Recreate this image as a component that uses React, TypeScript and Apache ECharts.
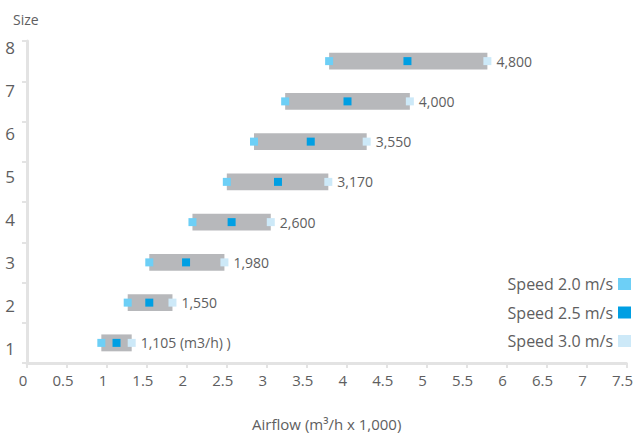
import React, { useEffect, useRef } from "react";
import * as echarts from "echarts";

const sizes = ["1", "2", "3", "4", "5", "6", "7", "8"];
const speed20 = [0.93, 1.26, 1.53, 2.07, 2.5, 2.84, 3.23, 3.78];
const speed25 = [1.12, 1.53, 1.99, 2.56, 3.14, 3.55, 4.01, 4.76];
const speed30 = [1.31, 1.82, 2.47, 3.05, 3.77, 4.25, 4.79, 5.76];
const airflowLabels = ["1,105 (m3/h) )", "1,550", "1,980", "2,600", "3,170", "3,550", "4,000", "4,800"];
const seriesNames = ["Speed 2.0 m/s", "Speed 2.5 m/s", "Speed 3.0 m/s"];

const FONT = "'Open Sans', 'Noto Sans', sans-serif";
const TEXT = "#5e5e60";
const AXIS = "#e3e3e3";
const C20 = "#6dcff6";
const C25 = "#009fe3";
const C30 = "#cde9f8";
const BAR = "#b7b8bb";

export default function App() {
  const ref = useRef<HTMLDivElement>(null);
  useEffect(() => {
    document.body.style.margin = "0";
    const chart = echarts.init(ref.current!, null, { renderer: "svg" });
    const spanData = sizes.map((_, i) => [speed20[i], speed30[i], i]);
    const scatter = (idx: number, vals: number[], color: string, extra: any = {}) => ({
      type: "scatter",
      name: seriesNames[idx],
      symbol: "rect",
      symbolSize: 8,
      itemStyle: { color, opacity: 1 },
      z: 3,
      data: sizes.map((s, i) => [vals[i], s]),
      ...extra,
    });
    chart.setOption({
      animation: false,
      textStyle: { fontFamily: FONT },
      title: {
        text: "Size",
        left: 8,
        top: 7,
        textStyle: { fontSize: 14, fontWeight: "normal", color: TEXT, fontFamily: FONT },
      },
      legend: {
        data: seriesNames,
        orient: "vertical",
        align: "right",
        right: 5,
        top: 276,
        padding: 0,
        itemGap: 12.5,
        itemWidth: 13,
        itemHeight: 12,
        icon: "rect",
        selectedMode: false,
        textStyle: { fontSize: 16, color: TEXT, fontFamily: FONT, lineHeight: 16 },
      },
      grid: [
        { left: 27, right: 8, top: 41, height: 322 },
        { left: 26, right: 8, top: 25.5, height: 344 },
      ],
      xAxis: [
        {
          type: "value",
          gridIndex: 0,
          min: 0,
          max: 7.5,
          interval: 0.5,
          splitLine: { show: false },
          axisLine: { show: true, lineStyle: { color: AXIS, width: 3 } },
          axisTick: { show: true, length: 5, lineStyle: { color: AXIS, width: 2 } },
          axisLabel: {
            fontSize: 15,
            color: TEXT,
            margin: 9,
            padding: [0, 8, 0, 0],
            fontFamily: FONT,
          },
          name: "Airflow (m³/h x 1,000)",
          nameLocation: "middle",
          nameGap: 53,
          nameTextStyle: { fontSize: 15, color: TEXT, fontFamily: FONT },
        },
        { type: "value", gridIndex: 1, show: false, min: 0, max: 7.5 },
      ],
      yAxis: [
        {
          type: "category",
          gridIndex: 0,
          data: sizes,
          axisLine: { show: true, lineStyle: { color: AXIS, width: 3 } },
          axisTick: { show: true, length: 5, lineStyle: { color: AXIS, width: 2 } },
          axisLabel: { show: false },
        },
        {
          type: "category",
          gridIndex: 1,
          data: sizes,
          axisLine: { show: false },
          axisTick: { show: false },
          axisLabel: { fontSize: 17, color: TEXT, margin: 11, fontFamily: FONT },
        },
      ],
      series: [
        {
          type: "custom",
          name: "span",
          xAxisIndex: 0,
          yAxisIndex: 0,
          data: spanData,
          z: 1,
          renderItem: (params: any, api: any) => {
            const s = api.coord([api.value(0), api.value(2)]);
            const e = api.coord([api.value(1), api.value(2)]);
            const h = api.size([0, 1])[1] * 0.42;
            return {
              type: "rect",
              shape: { x: s[0], y: s[1] - h / 2, width: e[0] - s[0], height: h },
              style: { fill: BAR },
            };
          },
        },
        scatter(0, speed20, C20),
        scatter(1, speed25, C25),
        scatter(2, speed30, C30, {
          label: {
            show: true,
            position: "right",
            distance: 5,
            fontSize: 14,
            color: TEXT,
            fontFamily: FONT,
            formatter: (p: any) => airflowLabels[p.dataIndex],
          },
        }),
      ],
    });
    return () => chart.dispose();
  }, []);
  return <div ref={ref} style={{ width: 636, height: 437 }} />;
}
